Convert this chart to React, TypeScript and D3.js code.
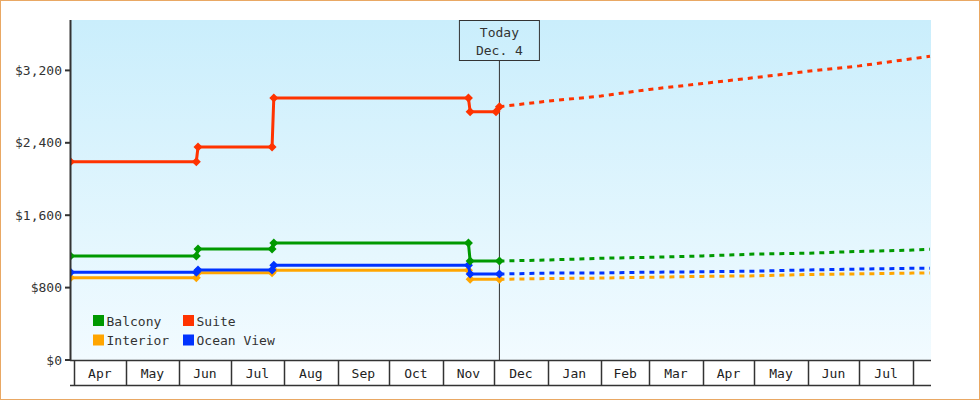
import React from "react";
import * as d3 from "d3";

const seriesNames = ["Balcony", "Suite", "Interior", "Ocean View"];
const seriesColors = ["#009900", "#ff3300", "#ffa500", "#0033ff"];

const histDates = ["2012-03-30", "2012-06-11", "2012-06-12", "2012-07-25", "2012-07-26", "2012-11-16", "2012-11-17", "2012-12-04"];
const suiteDates = ["2012-03-30", "2012-06-11", "2012-06-12", "2012-07-25", "2012-07-26", "2012-11-16", "2012-11-17", "2012-12-02", "2012-12-04"];
const balconyHist = [1149, 1149, 1227, 1227, 1293, 1293, 1094, 1094];
const suiteHist = [2191, 2191, 2354, 2354, 2895, 2895, 2744, 2744, 2799];
const interiorHist = [909, 909, 964, 964, 991, 991, 891, 891];
const oceanHist = [969, 969, 994, 994, 1046, 1046, 950, 950];

const projDates = ["2012-12-04", "2013-01-01", "2013-02-01", "2013-03-01", "2013-04-01", "2013-05-01", "2013-06-01", "2013-07-01", "2013-08-01", "2013-08-11"];
const balconyProj = [1094, 1105, 1124, 1135, 1150, 1170, 1180, 1200, 1215, 1223];
const suiteProj = [2799, 2860, 2917, 2990, 3055, 3120, 3190, 3250, 3330, 3356];
const interiorProj = [891, 900, 905, 914, 924, 930, 945, 952, 960, 962];
const oceanProj = [950, 960, 962, 970, 975, 982, 995, 1005, 1013, 1013];

const yTicks = [0, 800, 1600, 2400, 3200];
const todayDate = "2012-12-04";
const todayLabel = ["Today", "Dec. 4"];

const W = 980, H = 400;
const L = 71, R = 931, T = 20, B = 360;
const FONT = "'DejaVu Sans Mono', 'Liberation Mono', monospace";

const parse = d3.utcParse("%Y-%m-%d");

export default function App() {
  const x = d3.scaleUtc()
    .domain([new Date(Date.UTC(2012, 2, 30, 6)), new Date(Date.UTC(2013, 7, 11, 14))])
    .range([L, R]);
  const y = d3.scaleLinear().domain([0, 3757]).range([B, T]);
  const fmt = d3.format("$,");

  const hist = [
    { dates: histDates, vals: balconyHist },
    { dates: suiteDates, vals: suiteHist },
    { dates: histDates, vals: interiorHist },
    { dates: histDates, vals: oceanHist },
  ];
  const proj = [balconyProj, suiteProj, interiorProj, oceanProj];
  const order = [2, 3, 0, 1];

  const line = d3.line<[Date, number]>().x(d => x(d[0])).y(d => y(d[1]));
  const months = d3.utcMonth.range(new Date(Date.UTC(2012, 3, 1)), new Date(Date.UTC(2013, 7, 2)));
  const tx = x(parse(todayDate)!);
  const diamond = (cx: number, cy: number) => `M${cx},${cy - 4.5}L${cx + 4.5},${cy}L${cx},${cy + 4.5}L${cx - 4.5},${cy}Z`;

  return (
    <svg width={W} height={H} style={{ position: "absolute", left: 0, top: 0 }} fontFamily={FONT}>
      <defs>
        <linearGradient id="bg" x1="0" y1="0" x2="0" y2="1">
          <stop offset="0" stopColor="#caeefc" />
          <stop offset="1" stopColor="#f2fbff" />
        </linearGradient>
        <clipPath id="plot"><rect x={L} y={T} width={R - L} height={B - T} /></clipPath>
      </defs>
      <rect x={0} y={0} width={W} height={H} fill="#fff" />
      <rect x={0.5} y={0.5} width={W - 1} height={H - 1} fill="none" stroke="#e9a864" strokeWidth={1} />
      <rect x={L} y={T} width={R - L} height={B - T} fill="url(#bg)" />

      {/* today marker */}
      <line x1={tx} x2={tx} y1={60} y2={B} stroke="#333" strokeWidth={1} />
      <rect x={tx - 40} y={20.5} width={80} height={40} fill="none" stroke="#333" strokeWidth={1} />
      <text x={tx} y={37} textAnchor="middle" fontSize={13} fill="#333">{todayLabel[0]}</text>
      <text x={tx} y={55} textAnchor="middle" fontSize={13} fill="#333">{todayLabel[1]}</text>

      {/* series */}
      <g clipPath="url(#plot)">
        {order.map(i => {
          const hp: [Date, number][] = hist[i].dates.map((d, k) => [parse(d)!, hist[i].vals[k]]);
          const pp: [Date, number][] = projDates.map((d, k) => [parse(d)!, proj[i][k]]);
          return (
            <g key={i}>
              <path d={line(pp)!} fill="none" stroke={seriesColors[i]} strokeWidth={3} strokeDasharray="5,5" />
              <path d={line(hp)!} fill="none" stroke={seriesColors[i]} strokeWidth={3} strokeLinejoin="round" />
              {hp.map((p, k) => (
                <path key={k} d={diamond(x(p[0]), y(p[1]))} fill={seriesColors[i]} />
              ))}
            </g>
          );
        })}
      </g>

      {/* y axis */}
      <line x1={L - 0.5} x2={L - 0.5} y1={T} y2={B + 1} stroke="#333" strokeWidth={2} />
      {yTicks.map(t => (
        <g key={t}>
          <line x1={65} x2={L} y1={y(t)} y2={y(t)} stroke="#333" strokeWidth={2} />
          <text x={62} y={y(t)} dy="0.35em" textAnchor="end" fontSize={13} fill="#333">{fmt(t)}</text>
        </g>
      ))}

      {/* x axis */}
      <line x1={L - 1} x2={R} y1={B + 0.5} y2={B + 0.5} stroke="#333" strokeWidth={1.5} />
      <line x1={L - 1} x2={R} y1={385.5} y2={385.5} stroke="#333" strokeWidth={1.5} />
      {months.map((m, k) => {
        const x0 = x(m);
        const next = k + 1 < months.length ? x(months[k + 1]) : null;
        return (
          <g key={k}>
            <line x1={Math.round(x0) + 0.5} x2={Math.round(x0) + 0.5} y1={B} y2={386} stroke="#333" strokeWidth={1.5} />
            {next !== null && (
              <text x={(x0 + next) / 2} y={378} textAnchor="middle" fontSize={13} fill="#222">{d3.utcFormat("%b")(m)}</text>
            )}
          </g>
        );
      })}

      {/* legend */}
      {seriesNames.map((n, i) => {
        const lx = i % 2 === 0 ? 93 : 183;
        const ly = i < 2 ? 315 : 334.5;
        return (
          <g key={n}>
            <rect x={lx} y={ly} width={11} height={11} fill={seriesColors[i]} />
            <text x={lx + 13.5} y={ly + 10.5} fontSize={13} fill="#333">{n}</text>
          </g>
        );
      })}
    </svg>
  );
}
